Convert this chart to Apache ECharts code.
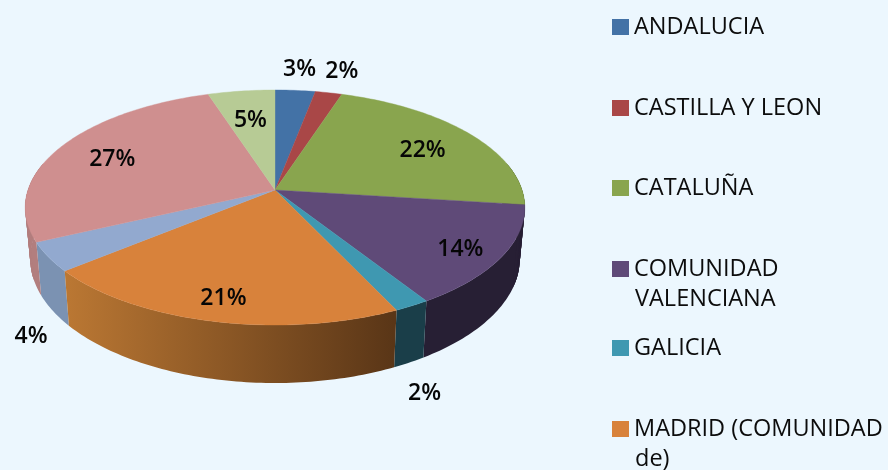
<!DOCTYPE html>
<html><head><meta charset="utf-8">
<style>html,body{margin:0;padding:0;background:#ecf7fe}#c{width:888px;height:470px}</style>
<script src="https://cdn.jsdelivr.net/npm/echarts@6/dist/echarts.min.js"></script>
</head><body><div id="c"></div>
<script>
// ---- data ----
const legendNames = ['ANDALUCIA','CASTILLA Y LEON','CATALUÑA','COMUNIDAD VALENCIANA','GALICIA','MADRID (COMUNIDAD de)'];
const legendFirstLine = ['ANDALUCIA','CASTILLA Y LEON','CATALUÑA','COMUNIDAD','GALICIA','MADRID (COMUNIDAD'];
const legendSecondLine = ['','','','VALENCIANA','','de)'];
const shares = [3,2,22,14,2,21,4,27,5];

// ---- styling ----
const topColors = ['#4372a6','#a94747','#89a54e','#5f4a78','#3f98b1','#d8823b','#92a9cf','#cf8f8f','#b7cb95'];
const wallColors = ['#2a4668','#692c2c','#55662f','#271f34','#1a3e49',null,'#7b92b2','#b27e7e','#7d8c66'];
const madridWall = ['#ba7733','#5a3617'];
const labelRadius = [1.25,1.29,0.75,0.83,1.08,0.84,1.07,0.75,0.7];
const labelDrop = [0,2,4,5,77,1,74,2,2];
const legendTops = [15,96,176,257,336,417];
const TOTAL = shares.reduce((a,b)=>a+b,0);

// ---- projection of the tilted disc ----
const CX=275, CY=190, A=247, B=114.9, K=0.149;
const CY2=240, A2=A*0.98, B2=121.7;
function rimTop(t,r){r=r==null?1:r;const X=Math.sin(t)*r,Y=-Math.cos(t)*r,w=1-K*Y;return [CX+A*X/w,CY+B*Y/w];}
function rimBottom(t){const X=Math.sin(t),Y=-Math.cos(t),w=1-K*Y;return [CX+A2*X/w,CY2+B2*Y/w];}
const toAngle=v=>v/TOTAL*Math.PI*2;

function makeRender(i){
  const before=shares.slice(0,i).reduce((a,b)=>a+b,0);
  return function(params,api){
    const v=api.value(0);
    const a0=toAngle(before), a1=toAngle(before+v), step=Math.PI/180;
    const angles=[];
    for(let t=a0;t<a1;t+=step)angles.push(t);
    angles.push(a1);
    const top=[[CX,CY]].concat(angles.map(t=>rimTop(t)));
    const children=[];
    // side wall: only the half facing the viewer
    const vis=angles.filter(t=>t>=Math.PI/2-0.25&&t<=Math.PI*1.5+0.25);
    const fill=wallColors[i]||new echarts.graphic.LinearGradient(68,0,393,0,[
      {offset:0,color:madridWall[0]},{offset:1,color:madridWall[1]}],true);
    if(vis.length>1){
      children.push({type:'polygon',z2:i===5?3:2,
        shape:{points:vis.map(t=>rimTop(t)).concat(vis.slice().reverse().map(t=>rimBottom(t)))},
        style:{fill:fill}});
      // silhouette strips between the two rims at the far left and right
      for(let k=0;k+3<vis.length;k++){
        const s=vis[k],e=vis[k+3];
        if(Math.abs(s-Math.PI*1.5)<0.35||Math.abs(s-Math.PI/2)<0.35){
          children.push({type:'polygon',z2:2,
            shape:{points:[rimTop(s),rimTop(e),rimBottom(e),rimBottom(s)]},style:{fill:fill}});
        }
      }
    }
    children.push({type:'polygon',z2:10,shape:{points:top},style:{fill:topColors[i],stroke:topColors[i],lineWidth:0.4}});
    const m=(a0+a1)/2, p=rimTop(m,labelRadius[i]);
    children.push({type:'text',z2:20,x:p[0],y:p[1]+labelDrop[i],style:{
      text:Math.round(v)+'%',fill:'#060606',align:'center',verticalAlign:'middle',
      font:'600 23px "Open Sans"'}});
    return {type:'group',children:children};
  };
}

const series=shares.map((v,i)=>({
  type:'custom',name:legendNames[i],coordinateSystem:'none',silent:true,animation:false,
  itemStyle:{color:topColors[i]},data:[[v]],renderItem:makeRender(i)
}));
const legends=legendNames.map((n,i)=>({
  left:612,top:legendTops[i],padding:0,orient:'vertical',selectedMode:false,icon:'rect',
  itemWidth:17,itemHeight:16,itemGap:0,
  data:[{name:n,itemStyle:{color:topColors[i]}}],
  formatter:()=>legendFirstLine[i],
  textStyle:{color:'#0c0c0c',fontFamily:'"Open Sans"',fontSize:23.5}
}));
const second=legendSecondLine.map((s,i)=>s?{type:'text',left:635,top:legendTops[i]+30,silent:true,
  style:{text:s,fill:'#0c0c0c',font:'23.5px "Open Sans"'}}:null).filter(Boolean);

echarts.init(document.getElementById('c'),null,{renderer:'canvas'}).setOption({
  backgroundColor:'#ecf7fe',animation:false,
  legend:legends,graphic:second,series:series
});
</script></body></html>
